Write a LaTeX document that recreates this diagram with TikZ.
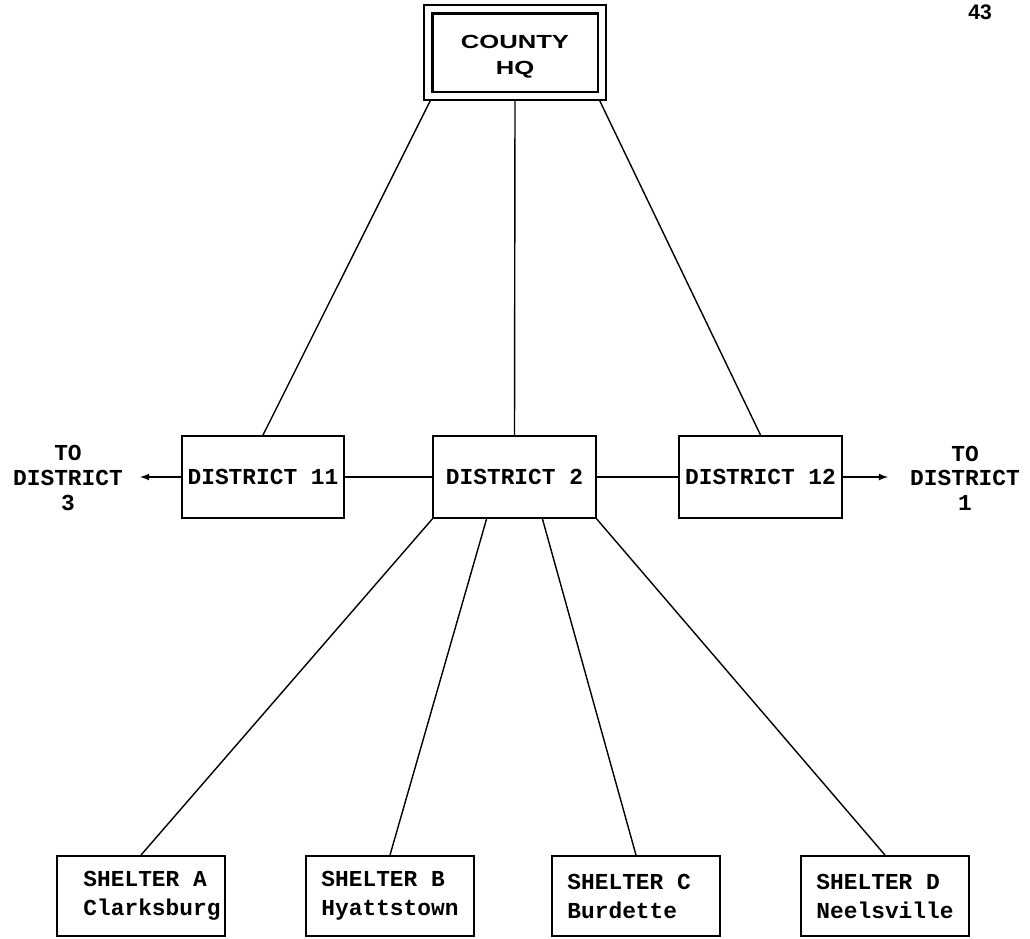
\documentclass[tikz,border=0pt]{standalone}
\usepackage{fontspec}
\setmonofont{Liberation Mono}
\setsansfont{Liberation Sans}
\newfontfamily\hqfont[FakeStretch=1.35]{Liberation Sans}
\usepackage{tikz}
\usetikzlibrary{calc}

\tikzset{
    box/.style={draw, line width=1.1pt, minimum width=3.25cm, minimum height=1.64cm,
        font=\ttfamily\bfseries\fontsize{13}{16.5}\selectfont},
    shelter/.style={draw, line width=1.1pt, minimum width=3.36cm, minimum height=1.6cm,
        align=left, font=\ttfamily\bfseries\fontsize{13}{16.5}\selectfont},
    note/.style={align=center, font=\ttfamily\bfseries\fontsize{13}{14}\selectfont},
    link/.style={line width=0.8pt}
}

\begin{document}
\begin{tikzpicture}[x=0.02cm,y=-0.02cm]
    \useasboundingbox (0,0) rectangle (1030,938);
    % county headquarters, double frame
    \node[draw, line width=0.9pt, minimum width=3.64cm, minimum height=1.9cm] (hqout) at (515,52.5) {};
    \node[draw, line width=1.7pt, minimum width=3.32cm, minimum height=1.58cm] (hq) at (515,52.5) {};
    \node[align=center, font=\hqfont\bfseries\fontsize{10.8}{14.6}\selectfont] (hqtext) at (515,57) {COUNTY\\HQ};
    \node[font=\sffamily\bfseries\fontsize{12}{14}\selectfont] (page) at (980,12) {43};
    % districts
    \node[box] (d11) at (263,477) {DISTRICT 11};
    \node[box] (d2) at (514.5,477) {DISTRICT 2};
    \node[box] (d12) at (760.5,477) {DISTRICT 12};
    \node[note] (to3) at (68,478) {TO\\DISTRICT\\3};
    \node[note] (to1) at (965,478) {TO\\DISTRICT\\1};
    \coordinate (w3) at (140,477);
    \coordinate (e1) at (888,477);
    % shelters
    \node[shelter, inner xsep=0pt] (sa) at (141,896) {\hspace*{0.44cm}SHELTER A\\\hspace*{0.44cm}Clarksburg};
    \node[shelter] (sb) at (390,896) {SHELTER B\\Hyattstown};
    \node[shelter] (sc) at (636,896) {SHELTER C\\Burdette\phantom{xx}};
    \node[shelter] (sd) at (885,896) {SHELTER D\\Neelsville};

    \draw[link] ([xshift=4]hqout.south west) -- (d11.north);
    \draw[link] (hqout.south) -- (d2.north);
    \draw[link] ([xshift=-4]hqout.south east) -- (d12.north);
    \draw[link] (d11) -- (d2);
    \draw[link] (d2) -- (d12);
    \draw[link,-latex] (d11.west) -- (w3);
    \draw[link,-latex] (d12.east) -- (e1);
    \draw[link] (d2.south west) -- (sa.north);
    \draw[link] ($(d2.south west)!0.33!(d2.south east)$) -- (sb.north);
    \draw[link] ($(d2.south west)!0.67!(d2.south east)$) -- (sc.north);
    \draw[link] (d2.south east) -- (sd.north);
\end{tikzpicture}
\end{document}
